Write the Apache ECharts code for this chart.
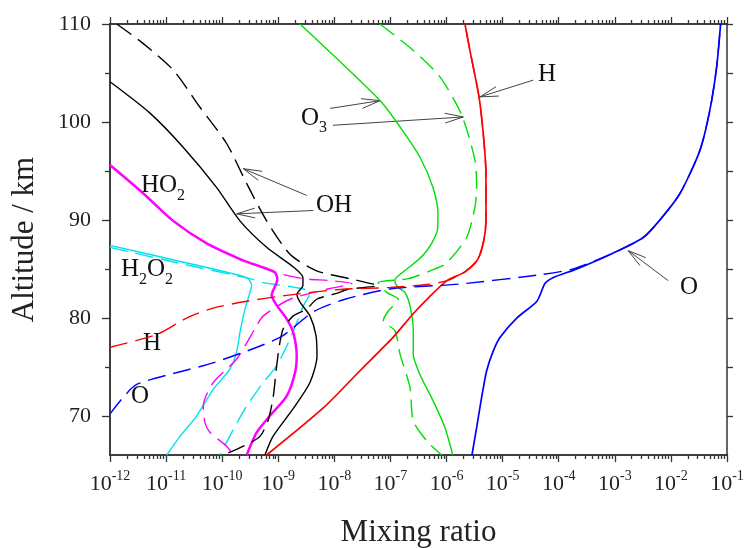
<!DOCTYPE html>
<html><head><meta charset="utf-8">
<script src="https://cdn.jsdelivr.net/npm/echarts@6/dist/echarts.min.js"></script>
<style>html,body{margin:0;padding:0;background:#fff}#c{width:744px;height:548px}</style>
</head><body><div id="c"></div>
<script>
// ---- axis ticks ----
const decadeExponents = [-12,-11,-10,-9,-8,-7,-6,-5,-4,-3,-2,-1];
const minorMultipliers = [2,3,4,5,6,7,8,9];
const altLabelTicks = [70,80,90,100,110];
const altMinorTicks = [75,85,95,105];
const altAllTicks = [70,75,80,85,90,95,100,105,110];

// ---- data: [mixing ratio, altitude km] ----
const O_solid = [[2.84e-6,66],[3.44e-6,68.8],[4.23e-6,71.9],[5.19e-6,74.6],[6.79e-6,76.6],[8.95e-6,78],[1.8e-5,80],[4.08e-5,81.7],[5.68e-5,83.5],[7.9e-5,84.1],[2.11e-4,85],[9.25e-4,86.6],[3.21e-3,88.2],[6.37e-3,90],[1.45e-2,92.7],[3.29e-2,97.1],[4.95e-2,101.2],[6.53e-2,105.6],[7.69e-2,110]];
const O_dashed = [[1e-12,70.2],[1.73e-12,71.9],[2.99e-12,73.2],[1.5e-11,74.4],[6.85e-11,75.4],[1.07e-9,78.0],[4.16e-9,80.6],[1.55e-8,81.9],[9.8e-8,82.95],[1.73e-6,83.46],[4.62e-5,84.4],[1.79e-4,85],[9.25e-4,86.6],[3.21e-3,88.2],[6.37e-3,90],[1.45e-2,92.7],[3.29e-2,97.1],[4.95e-2,101.2],[6.53e-2,105.6],[7.69e-2,110]];
const H_solid = [[6.21e-10,66],[6.34e-9,70.8],[2.86e-8,74.6],[1.11e-7,78],[2.52e-7,80.4],[4.66e-7,82],[1.02e-6,83.8],[2.13e-6,84.7],[3.63e-6,86],[4.65e-6,88],[5.04e-6,90],[5.04e-6,94.7],[4.51e-6,98.8],[3.78e-6,102.6],[2.61e-6,107.3],[2.13e-6,110]];
const H_dashed = [[1e-12,77.0],[6.8e-12,78.3],[2.36e-11,80.0],[6.9e-11,81.0],[2.74e-10,81.7],[1.41e-9,82.3],[1.26e-8,82.9],[9.8e-8,83.1],[4.47e-7,83.4],[1.02e-6,83.8],[2.13e-6,84.7],[3.63e-6,86],[4.65e-6,88],[5.04e-6,90],[5.04e-6,94.7],[4.51e-6,98.8],[3.78e-6,102.6],[2.61e-6,107.3],[2.13e-6,110]];
const O3_solid = [[2.44e-9,110],[6.5e-8,102.2],[1.48e-7,99.5],[3.36e-7,96.4],[5.73e-7,93.3],[7.03e-7,90.6],[6.9e-7,89.0],[5.42e-7,87.6],[3.95e-7,86.5],[2.55e-7,85.5],[1.38e-7,84.3],[1.2e-7,83.8],[1.38e-7,83.1],[1.81e-7,82.6],[2.23e-7,81.2],[2.55e-7,78.7],[2.55e-7,76.3],[3.36e-7,74.2],[5.79e-7,71.5],[9.35e-7,68.8],[1.29e-6,66]];
const O3_dashed = [[6.5e-8,110],[2.55e-7,107.3],[7.62e-7,104.6],[1.86e-6,100.7],[3.21e-6,96.1],[3.44e-6,93.3],[3.21e-6,91.3],[2.28e-6,88.2],[1.0e-6,85.6],[6.21e-7,85.0],[2.07e-7,84.0],[6.07e-8,83.6],[8.55e-8,82.6],[1.38e-7,81.9],[9.14e-8,80.7],[7.45e-8,79.7],[1.2e-7,78.7],[1.48e-7,76.3],[2.23e-7,72.9],[2.55e-7,69.5],[4.51e-7,67.4],[8.18e-7,66]];
const OH_solid = [[1e-12,104.1],[5.16e-12,100.9],[2.03e-11,97.4],[7.98e-11,93.3],[2.07e-10,89.9],[6.21e-10,87.2],[1.85e-9,85.2],[2.75e-9,84.1],[2.75e-9,83.3],[2.15e-9,82.4],[2.44e-9,81.6],[3.67e-9,80.2],[4.7e-9,78.2],[4.9e-9,76.1],[3.67e-9,73.4],[1.83e-9,70.7],[8.05e-10,67.9],[5.79e-10,66]];
const OH_dashed = [[1.32e-12,110],[3.93e-12,108.0],[1.34e-11,105.3],[4.02e-11,101.5],[1.2e-10,97.8],[2.74e-10,93.7],[6.21e-10,89.9],[1.62e-9,86.5],[4.83e-9,84.8],[1.9e-8,84.0],[3.75e-8,83.6],[6.0e-8,83.3],[1.7e-8,82.9],[1.1e-8,82.5],[4.83e-9,81.9],[3.21e-9,80.9],[1.85e-9,80.2],[1.23e-9,78.9],[1.07e-9,77.5],[9.35e-10,75.1],[8.15e-10,72.0],[6.64e-10,69.6],[4.72e-10,67.9],[2.38e-10,66.9],[1.38e-10,66.3],[9.1e-11,66]];
const HO2_solid = [[1e-12,95.6],[3.93e-12,92.7],[1.34e-11,89.9],[5.3e-11,87.6],[2.07e-10,86.0],[3.54e-10,85.5],[8.5e-10,84.7],[9.6e-10,84.0],[9.35e-10,83.6],[7.62e-10,82.3],[9.35e-10,81.3],[1.41e-9,79.9],[1.85e-9,78.5],[2.13e-9,76.1],[1.99e-9,74.4],[1.41e-9,72.0],[7.11e-10,70.0],[4.12e-10,68.3],[2.74e-10,66]];
const HO2_dashed = [[1e-12,95.6],[3.93e-12,92.7],[1.34e-11,89.9],[5.3e-11,87.6],[2.07e-10,86.0],[3.54e-10,85.5],[9.35e-10,84.6],[2.79e-9,84.0],[8.36e-9,83.8],[2.06e-8,83.5],[8.36e-9,83.0],[1.62e-9,81.9],[5.41e-10,80.2],[4.12e-10,79.2],[1.81e-10,75.8],[6.93e-11,73.4],[4.6e-11,71.0],[4.93e-11,69.3],[6.07e-11,68.3],[1.2e-10,66.9],[1.58e-10,66]];
const H2O2_solid = [[1e-12,87.4],[1.65e-11,85.8],[2.74e-10,84.1],[3.36e-10,83.3],[3.13e-10,82.6],[2.55e-10,80.9],[2.07e-10,78.5],[1.81e-10,76.5],[1.38e-10,74.8],[6.93e-11,72.7],[3.51e-11,70.0],[1.77e-11,67.9],[1.03e-11,66]];
const H2O2_dashed = [[1e-12,87.2],[1.65e-11,85.6],[3.13e-10,84.0],[5.41e-10,83.6],[1.62e-9,83.2],[2.99e-9,82.9],[3.67e-9,82.6],[2.79e-9,81.2],[2.13e-9,79.5],[1.41e-9,77.1],[9.35e-10,75.1],[5.41e-10,73.4],[2.74e-10,71.0],[1.58e-10,68.6],[9.14e-11,66]];

// ---- annotations ----
const labelTexts = ['H', 'O{sub|3}', 'OH', 'HO{sub|2}', 'H{sub|2}O{sub|2}', 'H', 'O', 'O'];
const labelPos = [[4.26e-5,104.9],[2.54e-9,100.4],[4.7e-9,91.5],[3.57e-12,93.5],[1.57e-12,84.9],[3.87e-12,77.35],[2.37e-12,72.0],[1.45e-2,83.1]];
// [tail x, tail alt, tip x, tip alt]
const arrows = [
  [3.52e-5,104.27,3.94e-6,102.56],
  [8.36e-9,101.38,6.5e-8,102.17],
  [9.44e-9,99.66,1.99e-6,100.51],
  [3.21e-9,92.5,2.38e-10,95.23],
  [4.21e-9,90.96,1.81e-10,90.62],
  [8.95e-3,83.8,1.73e-3,86.87]
];

const FONT = 'Liberation Serif, Times New Roman, serif';
const AXC = '#333';
// minor tick positions expressed as exponents on the tick-only value axes
const minorTickExp = [];
decadeExponents.slice(0, -1).forEach(e => minorMultipliers.forEach(m => minorTickExp.push(e + Math.log10(m))));

const DASH = [18, 8];
function ls(name, data, color, dashed, width) {
  return {
    name, type: 'line', data, xAxisIndex: 0, yAxisIndex: 0,
    showSymbol: false, symbol: 'none', smooth: 0.25, clip: true, silent: true,
    lineStyle: { color, width: width || 1.4, type: dashed ? DASH : 'solid' }
  };
}

const lineSt = { color: AXC, width: 1.5 };
const tickStyle = { color: AXC, width: 1.3 };
const expBase = { type: 'value', min: -12, max: -1, splitLine: { show: false },
  axisLine: { show: true, onZero: false, lineStyle: lineSt } };
const yBase = { type: 'value', min: 66, max: 110, splitLine: { show: false },
  axisLine: { show: true, onZero: false, lineStyle: lineSt } };

const option = {
  animation: false,
  backgroundColor: '#fff',
  grid: { left: 110, right: 17, top: 24, bottom: 93, containLabel: false, outerBoundsMode: 'none' },
  xAxis: [
    { type: 'log', logBase: 10, min: 1e-12, max: 1e-1, position: 'bottom', show: false, splitLine: { show: false } },
    Object.assign({}, expBase, { position: 'bottom',
      name: 'Mixing ratio', nameLocation: 'middle', nameGap: 62,
      nameTextStyle: { fontFamily: FONT, fontSize: 31, color: '#222' },
      axisTick: { show: true, inside: false, length: 7, customValues: decadeExponents, lineStyle: tickStyle },
      axisLabel: { show: true, customValues: decadeExponents, margin: 17, showMinLabel: true, showMaxLabel: true,
        formatter: v => '{b|10}{s|' + v + '}',
        rich: { b: { fontFamily: FONT, fontSize: 22, lineHeight: 24, color: '#222' },
                s: { fontFamily: FONT, fontSize: 14, lineHeight: 14, color: '#222', padding: [0, 0, 15, 0] } } } }),
    Object.assign({}, expBase, { position: 'bottom',
      axisTick: { show: true, inside: false, length: 4, customValues: minorTickExp, lineStyle: tickStyle },
      axisLabel: { show: false } }),
    Object.assign({}, expBase, { position: 'top',
      axisTick: { show: true, inside: false, length: 7, customValues: decadeExponents, lineStyle: tickStyle },
      axisLabel: { show: false } }),
    Object.assign({}, expBase, { position: 'top',
      axisTick: { show: true, inside: false, length: 4, customValues: minorTickExp, lineStyle: tickStyle },
      axisLabel: { show: false } })
  ],
  yAxis: [
    Object.assign({}, yBase, { position: 'left',
      name: 'Altitude / km', nameLocation: 'middle', nameGap: 70, nameRotate: 90,
      nameTextStyle: { fontFamily: FONT, fontSize: 31, color: '#222' },
      axisTick: { show: true, inside: false, length: 8, customValues: altLabelTicks, lineStyle: tickStyle },
      axisLabel: { show: true, customValues: altLabelTicks, margin: 19, fontFamily: FONT, fontSize: 22, color: '#222' } }),
    Object.assign({}, yBase, { position: 'left',
      axisTick: { show: true, inside: false, length: 5, customValues: altMinorTicks, lineStyle: tickStyle },
      axisLabel: { show: false } }),
    Object.assign({}, yBase, { position: 'right',
      axisTick: { show: true, inside: false, length: 6, customValues: altAllTicks, lineStyle: tickStyle },
      axisLabel: { show: false } })
  ],
  series: [
    ls('H2O2 solid', H2O2_solid, '#00e2ee', false),
    ls('H2O2 dashed', H2O2_dashed, '#00e2ee', true),
    ls('HO2 solid', HO2_solid, '#ff00ff', false, 2.5),
    ls('HO2 dashed', HO2_dashed, '#ff00ff', true),
    ls('OH solid', OH_solid, '#000000', false),
    ls('OH dashed', OH_dashed, '#000000', true),
    ls('O3 solid', O3_solid, '#00dd00', false),
    ls('O3 dashed', O3_dashed, '#00dd00', true),
    ls('H solid', H_solid, '#ff0000', false, 1.7),
    ls('H dashed', H_dashed, '#ff0000', true),
    ls('O solid', O_solid, '#0000ff', false, 1.7),
    ls('O dashed', O_dashed, '#0000ff', true),
    {
      type: 'custom', name: 'arrows', xAxisIndex: 0, yAxisIndex: 0, silent: true, clip: false,
      data: arrows, encode: { x: [0, 2], y: [1, 3] },
      renderItem: function (params, api) {
        const a = api.coord([api.value(0), api.value(1)]);
        const b = api.coord([api.value(2), api.value(3)]);
        const ang = Math.atan2(b[1] - a[1], b[0] - a[0]);
        const L = 19, w = 0.26;
        const p1 = [b[0] - L * Math.cos(ang - w), b[1] - L * Math.sin(ang - w)];
        const p2 = [b[0] - L * Math.cos(ang + w), b[1] - L * Math.sin(ang + w)];
        return { type: 'group', children: [
          { type: 'line', shape: { x1: a[0], y1: a[1], x2: b[0], y2: b[1] }, style: { stroke: '#444', lineWidth: 1 } },
          { type: 'polyline', shape: { points: [p1, b, p2] }, style: { stroke: '#444', lineWidth: 1, fill: null } }
        ] };
      }
    },
    {
      type: 'custom', name: 'labels', xAxisIndex: 0, yAxisIndex: 0, silent: true, clip: false,
      data: labelPos, encode: { x: 0, y: 1 },
      renderItem: function (params, api) {
        const p = api.coord([api.value(0), api.value(1)]);
        return { type: 'text', x: p[0], y: p[1], style: {
          text: labelTexts[params.dataIndex], align: 'left', verticalAlign: 'middle',
          fontFamily: FONT, fontSize: 25, lineHeight: 26, fill: '#111',
          rich: { sub: { fontFamily: FONT, fontSize: 16, lineHeight: 16, fill: '#111', padding: [20, 0, 0, 0] } }
        } };
      }
    }
  ]
};
const chart = echarts.init(document.getElementById('c'), null, { renderer: 'canvas' });
chart.setOption(option);
</script></body></html>
